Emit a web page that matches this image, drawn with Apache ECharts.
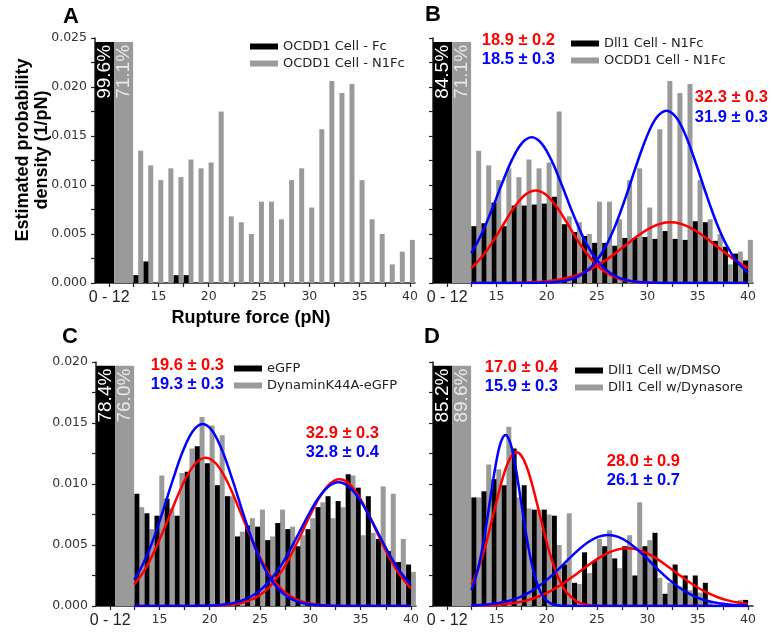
<!DOCTYPE html>
<html><head><meta charset="utf-8">
<script src="https://cdn.jsdelivr.net/npm/echarts@6/dist/echarts.min.js"></script>
<style>html,body{margin:0;padding:0;background:#fff}#c{width:773px;height:632px}</style>
</head><body><div id="c"></div>
<script>
// ---------- data ----------
const forces = [13,14,15,16,17,18,19,20,21,22,23,24,25,26,27,28,29,30,31,32,33,34,35,36,37,38,39,40];
const xTickLabels = [10.1, 15, 20, 25, 30, 35, 40];
const xTickMarks = [10.1, 12.5, 15, 17.5, 20, 22.5, 25, 27.5, 30, 32.5, 35, 37.5, 40];
const lowBinLabel = '0 - 12';

const aBlack = [0.0008,0.0022,0,0,0.0008,0.0008,0,0,0,0,0,0,0,0,0,0,0,0,0,0,0,0,0,0,0,0,0,0];
const aGray  = [0.0135,0.0120,0.0105,0.0117,0.0108,0.0126,0.0117,0.0123,0.0175,0.0068,0.0062,0.0050,0.0083,0.0083,0.0065,0.0105,0.0117,0.0077,0.0157,0.0206,0.0194,0.0203,0.0105,0.0065,0.0050,0.0019,0.0032,0.0044];
const bBlack = [0.0058,0.0061,0.0082,0.0058,0.0079,0.0079,0.0080,0.0081,0.0088,0.0060,0.0052,0.0048,0.0041,0.0041,0.0038,0.0046,0.0046,0.0047,0.0045,0.0053,0.0045,0.0044,0.0063,0.0062,0.0043,0.0037,0.0030,0.0023];
const bGray  = [0.0135,0.0120,0.0105,0.0117,0.0108,0.0126,0.0117,0.0123,0.0175,0.0068,0.0062,0.0050,0.0083,0.0083,0.0065,0.0105,0.0117,0.0077,0.0157,0.0206,0.0194,0.0203,0.0105,0.0065,0.0050,0.0019,0.0032,0.0044];
const cBlack = [0.0092,0.0076,0.0074,0.0088,0.0074,0.0110,0.0131,0.0117,0.0099,0.0090,0.0057,0.0066,0.0065,0.0054,0.0068,0.0063,0.0049,0.0063,0.0081,0.0090,0.0086,0.0108,0.0097,0.0090,0.0055,0.0045,0.0036,0.0034];
const cGray  = [0.0081,0.0063,0.0107,0.0080,0.0109,0.0129,0.0155,0.0148,0.0140,0.0090,0.0061,0.0072,0.0079,0.0057,0.0079,0.0065,0.0058,0.0072,0.0085,0.0072,0.0081,0.0107,0.0058,0.0060,0.0098,0.0092,0.0055,0.0028];
const dBlack = [0.0089,0.0094,0.0104,0.0099,0.0129,0.0099,0.0079,0.0079,0.0074,0.0034,0.0019,0.0044,0.0037,0.0049,0.0039,0.0049,0.0025,0.0049,0.0060,0.0010,0.0034,0.0025,0.0025,0.0019,0,0,0,0.0005];
const dGray  = [0.0089,0.0116,0.0112,0.0147,0.0089,0.0080,0.0079,0.0075,0.0050,0.0076,0.0018,0.0027,0.0055,0.0062,0.0031,0.0058,0.0085,0.0054,0.0023,0.0019,0.0016,0.0013,0.0011,0.0003,0,0,0.0005,0];

// 0-12 pN bin (drawn truncated) and its percentages
const lowBinHeight = [0.0246, 0.0246, 0.0197, 0.0197];
const lowPctBlack = ['99.6%', '84.5%', '78.4%', '85.2%'];
const lowPctGray  = ['71.1%', '71.1%', '76.0%', '89.6%'];

const namesBlack = ['OCDD1 Cell - Fc', 'Dll1 Cell - N1Fc', 'eGFP', 'Dll1 Cell w/DMSO'];
const namesGray  = ['OCDD1 Cell - N1Fc', 'OCDD1 Cell - N1Fc', 'DynaminK44A-eGFP', 'Dll1 Cell w/Dynasore'];
const panelLetters = ['A', 'B', 'C', 'D'];
const yMax = [0.025, 0.025, 0.020, 0.020];

// Gaussian fit curves: [force, density]
const bRed1 = [[12.5,0.00152],[12.9,0.00190],[13.9,0.00310],[14.9,0.00463],[15.9,0.00633],[16.9,0.00791],[17.9,0.00904],[18.9,0.00945],[19.9,0.00904],[20.9,0.00791],[21.9,0.00633],[22.9,0.00463],[23.9,0.00310],[24.9,0.00190],[25.9,0.00107],[26.9,0.00055],[27.9,0.00026],[28.9,0.00011],[29.9,0.00004],[30.9,0.00002],[32,0],[40,0]];
const bRed2 = [[12.5,0],[16.3,0.00001],[17.3,0.00003],[18.3,0.00006],[19.3,0.00011],[20.3,0.00021],[21.3,0.00036],[22.3,0.00058],[23.3,0.00091],[24.3,0.00136],[25.3,0.00195],[26.3,0.00264],[27.3,0.00343],[28.3,0.00424],[29.3,0.00500],[30.3,0.00563],[31.3,0.00605],[32.3,0.00619],[33.3,0.00605],[34.3,0.00563],[35.3,0.00500],[36.3,0.00424],[37.3,0.00343],[38.3,0.00264],[39.3,0.00195],[40,0.00153]];
const bBlue1 = [[12.5,0.00304],[13.5,0.00494],[14.5,0.00735],[15.5,0.01000],[16.5,0.01246],[17.5,0.01422],[18.5,0.01486],[19.5,0.01422],[20.5,0.01246],[21.5,0.01000],[22.5,0.00735],[23.5,0.00494],[24.5,0.00304],[25.5,0.00172],[26.5,0.00089],[27.5,0.00042],[28.5,0.00018],[29.5,0.00007],[30.5,0.00003],[32,0],[40,0]];
const bBlue2 = [[12.5,0],[18.9,0.00001],[19.9,0.00004],[20.9,0.00010],[21.9,0.00025],[22.9,0.00056],[23.9,0.00116],[24.9,0.00219],[25.9,0.00381],[26.9,0.00608],[27.9,0.00891],[28.9,0.01199],[29.9,0.01483],[30.9,0.01685],[31.9,0.01758],[32.9,0.01685],[33.9,0.01483],[34.9,0.01199],[35.9,0.00891],[36.9,0.00608],[37.9,0.00381],[38.9,0.00219],[39.9,0.00116],[40,0.00108]];

const cRed1 = [[12.5,0.00176],[13.6,0.00305],[14.6,0.00466],[15.6,0.00658],[16.6,0.00861],[17.6,0.01043],[18.6,0.01170],[19.6,0.01216],[20.6,0.01170],[21.6,0.01043],[22.6,0.00861],[23.6,0.00658],[24.6,0.00466],[25.6,0.00305],[26.6,0.00186],[27.6,0.00104],[28.6,0.00054],[29.6,0.00026],[30.6,0.00012],[31.6,0.00005],[32.6,0.00002],[34,0],[40,0]];
const cRed2 = [[12.5,0],[18.9,0],[19.9,0.00001],[20.9,0.00004],[21.9,0.00009],[22.9,0.00021],[23.9,0.00044],[24.9,0.00085],[25.9,0.00153],[26.9,0.00255],[27.9,0.00391],[28.9,0.00556],[29.9,0.00731],[30.9,0.00888],[31.9,0.00998],[32.9,0.01038],[33.9,0.00998],[34.9,0.00888],[35.9,0.00731],[36.9,0.00556],[37.9,0.00391],[38.9,0.00255],[39.9,0.00153],[40,0.00145]];
const cBlue1 = [[12.5,0.00216],[13.3,0.00332],[14.3,0.00525],[15.3,0.00765],[16.3,0.01025],[17.3,0.01262],[18.3,0.01431],[19.3,0.01492],[20.3,0.01431],[21.3,0.01262],[22.3,0.01025],[23.3,0.00765],[24.3,0.00525],[25.3,0.00332],[26.3,0.00193],[27.3,0.00103],[28.3,0.00051],[29.3,0.00023],[30.3,0.00010],[31.3,0.00004],[33,0],[40,0]];
const cBlue2 = [[12.5,0],[17.8,0],[18.8,0.00001],[19.8,0.00003],[20.8,0.00007],[21.8,0.00016],[22.8,0.00034],[23.8,0.00064],[24.8,0.00114],[25.8,0.00191],[26.8,0.00297],[27.8,0.00432],[28.8,0.00588],[29.8,0.00746],[30.8,0.00885],[31.8,0.00980],[32.8,0.01014],[33.8,0.00980],[34.8,0.00885],[35.8,0.00746],[36.8,0.00588],[37.8,0.00432],[38.8,0.00297],[39.8,0.00191],[40,0.00173]];

const dRed1 = [[12.5,0.00174],[13,0.00263],[13.5,0.00380],[14,0.00522],[14.5,0.00684],[15,0.00852],[15.5,0.01011],[16,0.01143],[16.5,0.01230],[17,0.01260],[17.5,0.01230],[18,0.01143],[18.5,0.01011],[19,0.00852],[19.5,0.00684],[20,0.00522],[20.5,0.00380],[21,0.00263],[21.5,0.00174],[22,0.00109],[23,0.00037],[24,0.00010],[25,0.00002],[26,0],[40,0]];
const dRed2 = [[12.5,0.00002],[13,0.00003],[14,0.00005],[15,0.00009],[16,0.00017],[17,0.00028],[18,0.00046],[19,0.00072],[20,0.00107],[21,0.00152],[22,0.00205],[23,0.00265],[24,0.00326],[25,0.00384],[26,0.00431],[27,0.00462],[28,0.00473],[29,0.00462],[30,0.00431],[31,0.00384],[32,0.00326],[33,0.00265],[34,0.00205],[35,0.00152],[36,0.00107],[37,0.00072],[38,0.00046],[39,0.00028],[40,0.00017]];
const dBlue1 = [[12.5,0.00130],[12.9,0.00221],[13.4,0.00388],[13.9,0.00616],[14.4,0.00883],[14.9,0.01142],[15.4,0.01332],[15.9,0.01402],[16.4,0.01332],[16.9,0.01142],[17.4,0.00883],[17.9,0.00616],[18.4,0.00388],[18.9,0.00221],[19.4,0.00113],[19.9,0.00052],[20.4,0.00022],[20.9,0.00008],[21.4,0.00003],[21.9,0.00001],[23,0],[40,0]];
const dBlue2 = [[12.5,0.00004],[13.1,0.00006],[14.1,0.00012],[15.1,0.00022],[16.1,0.00039],[17.1,0.00065],[18.1,0.00103],[19.1,0.00155],[20.1,0.00220],[21.1,0.00296],[22.1,0.00378],[23.1,0.00456],[24.1,0.00522],[25.1,0.00566],[26.1,0.00582],[27.1,0.00566],[28.1,0.00522],[29.1,0.00456],[30.1,0.00378],[31.1,0.00296],[32.1,0.00220],[33.1,0.00155],[34.1,0.00103],[35.1,0.00065],[36.1,0.00039],[37.1,0.00022],[38.1,0.00012],[39.1,0.00006],[40,0.00004]];

// fit peak labels (red = black series fit, blue = gray series fit)
const fitLabels = [
  null,
  ['18.9 ± 0.2', '18.5 ± 0.3', '32.3 ± 0.3', '31.9 ± 0.3'],
  ['19.6 ± 0.3', '19.3 ± 0.3', '32.9 ± 0.3', '32.8 ± 0.4'],
  ['17.0 ± 0.4', '15.9 ± 0.3', '28.0 ± 0.9', '26.1 ± 0.7']
];

// ---------- layout ----------
const grids = [
  {left: 95, top: 38, width: 320, height: 245},
  {left: 433, top: 38, width: 320, height: 245},
  {left: 96, top: 362, width: 320, height: 244},
  {left: 433, top: 362, width: 320, height: 244}
];
const blackData = [aBlack, bBlack, cBlack, dBlack];
const grayData = [aGray, bGray, cGray, dGray];
const curves = [null, [bRed1, bRed2, bBlue1, bBlue2], [cRed1, cRed2, cBlue1, cBlue2], [dRed1, dRed2, dBlue1, dBlue2]];
const legendPos = [{left: 245, top: 35}, {left: 566, top: 32}, {left: 229, top: 357}, {left: 570, top: 359}];
const fitPos = [null,
  [[555, 40], [555, 59], [768, 97], [768, 117]],
  [[224, 365], [224, 384], [379, 433], [379, 452]],
  [[558, 367], [558, 386], [680, 461], [680, 480]]];
const letterPos = [[71, 17], [433, 15], [70, 337], [432, 337]];

const TICKFONT = 'DejaVu Sans';
const xAxis = [], yAxis = [], series = [], legend = [], graphic = [];
const axisCol = '#222';

for (let i = 0; i < 4; i++) {
  xAxis.push({
    gridIndex: i, type: 'value', min: 8.7, max: 40.5,
    axisLine: {show: true, onZero: false, lineStyle: {color: axisCol, width: 1.5}},
    splitLine: {show: false},
    axisTick: {show: true, customValues: xTickMarks, length: 4, lineStyle: {color: axisCol, width: 1.2}},
    axisLabel: {
      show: true, customValues: xTickLabels, margin: 7, color: '#333',
      fontFamily: TICKFONT, fontSize: 12.5,
      formatter: v => (v < 12 ? '{big|' + lowBinLabel + '}' : String(v)),
      rich: {big: {fontFamily: 'Liberation Sans', fontSize: 16, color: '#222'}}
    }
  });
  xAxis.push({gridIndex: i, type: 'value', min: 8.7, max: 40.5, show: false});
  yAxis.push({
    gridIndex: i, type: 'value', min: 0, max: yMax[i], interval: 0.005,
    axisLine: {show: true, lineStyle: {color: axisCol, width: 1.5}},
    axisTick: {show: true, length: 4, lineStyle: {color: axisCol, width: 1.2}},
    minorTick: {show: true, splitNumber: 2, length: 4, lineStyle: {color: axisCol, width: 1.2}},
    splitLine: {show: false}, minorSplitLine: {show: false},
    axisLabel: {show: i % 2 === 0, formatter: v => v.toFixed(3), margin: 8, color: '#333', fontFamily: TICKFONT, fontSize: 12.5}
  });

  const xi = 2 * i;
  series.push({
    type: 'bar', name: namesBlack[i], xAxisIndex: xi, yAxisIndex: i,
    data: forces.map((f, j) => [f, blackData[i][j]]),
    barWidth: 5, barGap: '-4%', itemStyle: {color: '#000'}, z: 3
  });
  series.push({
    type: 'bar', name: namesGray[i], xAxisIndex: xi, yAxisIndex: i,
    data: forces.map((f, j) => [f, grayData[i][j]]),
    barWidth: 5, barGap: '-4%', itemStyle: {color: '#9a9a9a'}, z: 2
  });
  const pctLabel = (txt, col) => ({
    show: true, position: ['50%', 3], rotate: 90, align: 'right', verticalAlign: 'middle',
    formatter: () => txt, color: col, fontFamily: 'Liberation Sans', fontSize: 19
  });
  series.push({
    type: 'bar', name: namesBlack[i], xAxisIndex: xi + 1, yAxisIndex: i,
    data: [[10.6, lowBinHeight[i]]], barWidth: 19, barGap: '0%',
    itemStyle: {color: '#000'}, label: pctLabel(lowPctBlack[i], '#fff'), z: 2
  });
  series.push({
    type: 'bar', name: namesGray[i], xAxisIndex: xi + 1, yAxisIndex: i,
    data: [[10.6, lowBinHeight[i]]], barWidth: 19, barGap: '0%',
    itemStyle: {color: '#9a9a9a'}, label: pctLabel(lowPctGray[i], '#e8e8e8'), z: 2
  });
  if (curves[i]) {
    const cols = ['#f00', '#f00', '#00f', '#00f'];
    curves[i].forEach((c, k) => {
      series.push({
        type: 'line', name: 'fit' + i + k, xAxisIndex: xi, yAxisIndex: i, data: c,
        smooth: 0.35, showSymbol: false, silent: true,
        lineStyle: {color: cols[k], width: 2.5}, z: 5 + (k >= 2 ? 1 : 0)
      });
    });
    fitLabels[i].forEach((t, k) => {
      graphic.push({type: 'text', x: fitPos[i][k][0], y: fitPos[i][k][1], silent: true,
        style: {text: t, font: 'bold 16.5px "Liberation Sans"', fill: (k % 2 === 0 ? '#f00' : '#00f'),
          align: 'right', textAlign: 'right', verticalAlign: 'middle', textVerticalAlign: 'middle'}});
    });
  }
  legend.push({
    data: [{name: namesBlack[i], icon: 'rect'}, {name: namesGray[i], icon: 'rect'}],
    left: legendPos[i].left, top: legendPos[i].top, orient: 'vertical',
    itemWidth: 28, itemHeight: 6, itemGap: 4, selectedMode: false,
    textStyle: {fontFamily: TICKFONT, fontSize: 13, color: '#222'}
  });
  graphic.push({type: 'text', x: letterPos[i][0], y: letterPos[i][1], silent: true,
    style: {text: panelLetters[i], font: 'bold 22px "Liberation Sans"', fill: '#000',
      align: 'center', textAlign: 'center', verticalAlign: 'middle', textVerticalAlign: 'middle'}});
}

graphic.push({type: 'text', x: 33, y: 150, rotation: Math.PI / 2, silent: true,
  style: {text: 'Estimated probability\ndensity (1/pN)', font: 'bold 18px "Liberation Sans"', fill: '#000',
    lineHeight: 19, align: 'center', textAlign: 'center', verticalAlign: 'middle', textVerticalAlign: 'middle'}});
graphic.push({type: 'text', x: 251, y: 318, silent: true,
  style: {text: 'Rupture force (pN)', font: 'bold 18px "Liberation Sans"', fill: '#000',
    align: 'center', textAlign: 'center', verticalAlign: 'middle', textVerticalAlign: 'middle'}});

const chart = echarts.init(document.getElementById('c'), null, {renderer: 'canvas', width: 773, height: 632});
chart.setOption({
  animation: false,
  backgroundColor: '#fff',
  grid: grids,
  xAxis: xAxis, yAxis: yAxis, series: series, legend: legend, graphic: graphic
});
</script></body></html>
